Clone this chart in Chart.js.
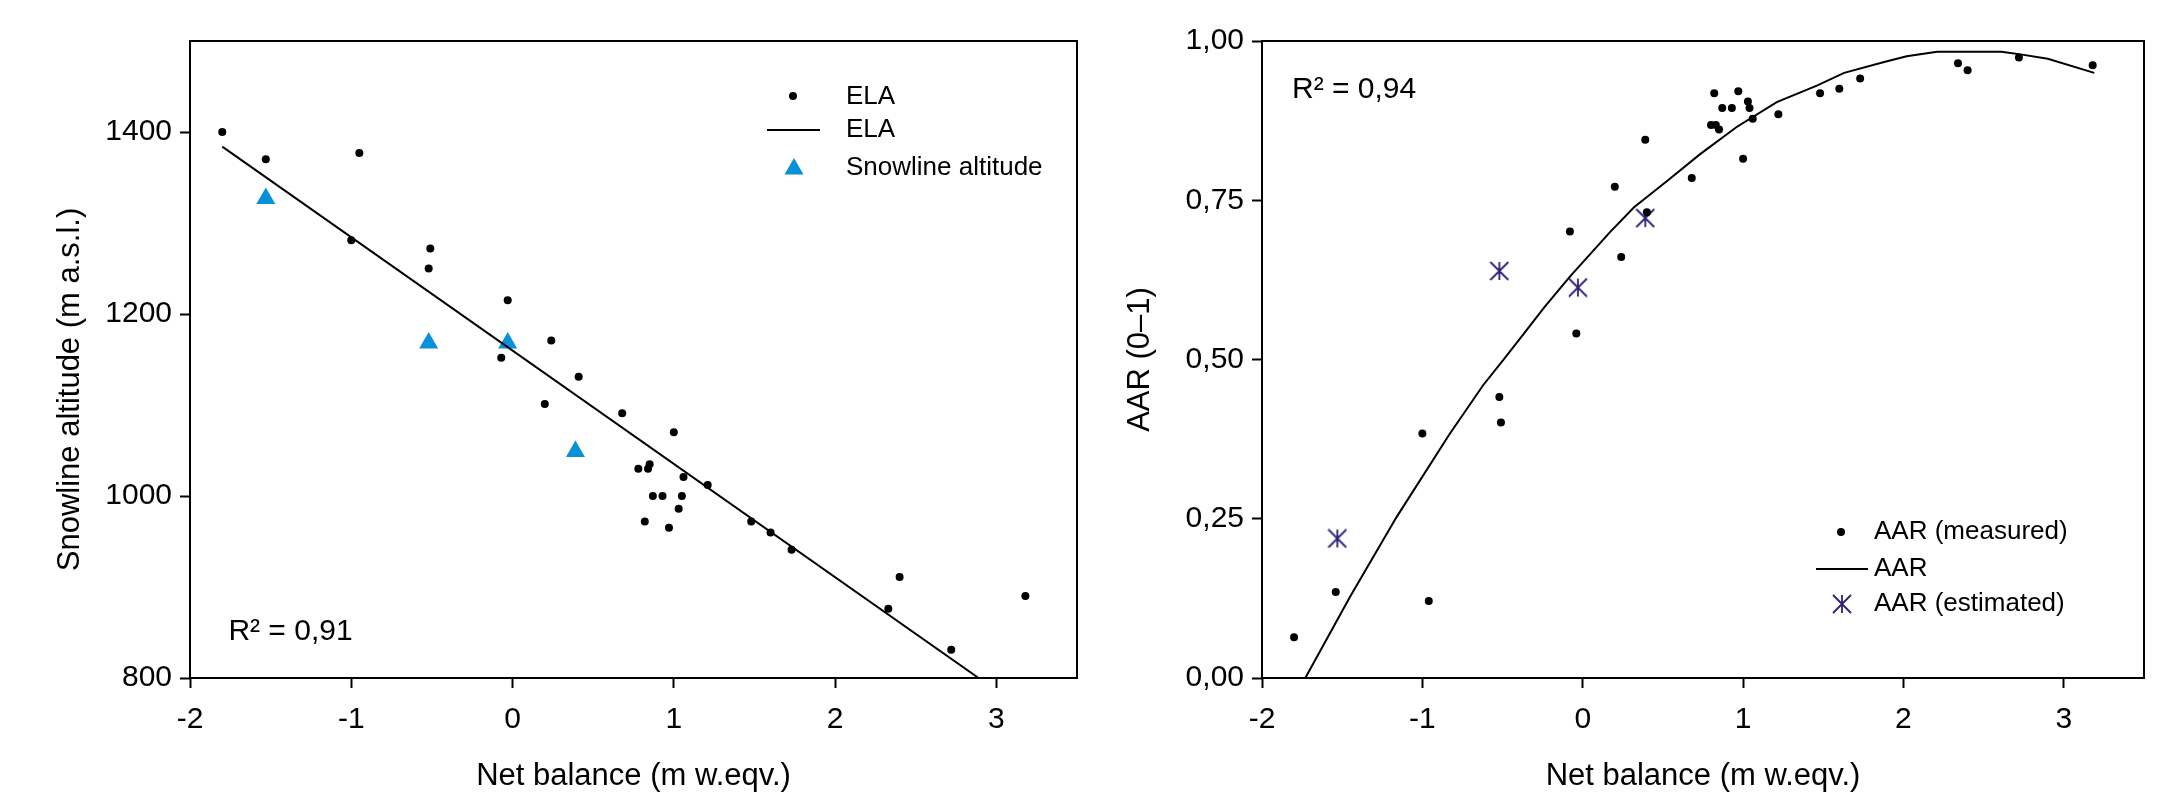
<!DOCTYPE html>
<html>
<head>
<meta charset="utf-8">
<script src="https://cdn.jsdelivr.net/npm/chart.js@4.4.1/dist/chart.umd.min.js"></script>
<style>
  html, body { margin: 0; padding: 0; background: #fff; }
  body { width: 2161px; height: 798px; position: relative; overflow: hidden; }
  canvas { position: absolute; top: 0; }
  #c1 { left: 0; }
  #c2 { left: 1100px; }
</style>
</head>
<body>
<canvas id="c1" width="1100" height="798"></canvas>
<canvas id="c2" width="1061" height="798"></canvas>
<script>
// ---------- data ----------
const xTicks = [-2, -1, 0, 1, 2, 3];
const xTickLabels = ['-2', '-1', '0', '1', '2', '3'];
const yTicksLeft = [800, 1000, 1200, 1400];
const yTickLabelsLeft = ['800', '1000', '1200', '1400'];
const yTicksRight = [0, 0.25, 0.5, 0.75, 1];
const yTickLabelsRight = ['0,00', '0,25', '0,50', '0,75', '1,00'];

const elaBalance  = [-1.80, -1.53, -0.95, -1.00, -0.51, -0.52, -0.03, 0.24, -0.07, 0.20, 0.41, 0.68, 1.00, 0.78, 0.84, 0.85, 1.06, 1.21, 0.87, 0.93, 1.05, 1.03, 0.82, 0.97, 1.48, 1.60, 1.73, 2.40, 2.33, 2.72, 3.18];
const elaAltitude = [1400, 1370, 1377, 1281, 1272, 1250, 1215, 1171, 1152, 1101, 1131, 1091, 1070, 1030, 1030, 1035, 1021, 1012, 1000, 1000, 1000, 986, 972, 965, 972, 960, 941, 911, 876, 831, 890];

const elaFitBalance  = [-1.80, 2.89];
const elaFitAltitude = [1384, 800];

const snowBalance  = [-1.53, -0.52, -0.03, 0.39];
const snowAltitude = [1327, 1168, 1168, 1049];

const aarBalance  = [-1.80, -1.54, -0.96, -1.00, -0.52, -0.51, -0.04, -0.08, 0.24, 0.20, 0.39, 0.68, 0.40, 0.80, 0.83, 0.85, 0.82, 0.97, 0.87, 0.93, 1.03, 1.04, 1.06, 1.00, 1.22, 1.48, 1.60, 1.73, 2.34, 2.40, 2.72, 3.18];
const aarMeasured = [0.064, 0.135, 0.121, 0.384, 0.441, 0.401, 0.541, 0.701, 0.661, 0.771, 0.845, 0.785, 0.731, 0.868, 0.868, 0.861, 0.918, 0.921, 0.895, 0.895, 0.905, 0.895, 0.878, 0.815, 0.885, 0.918, 0.925, 0.941, 0.965, 0.954, 0.974, 0.962];

const aarCurveBalance = [-1.73, -1.45, -1.16, -0.83, -0.62, -0.49, -0.35, -0.24, -0.08, 0.17, 0.32, 0.53, 0.73, 0.96, 1.21, 1.46, 1.63, 1.88, 2.02, 2.21, 2.61, 2.73, 2.90, 3.19];
const aarCurve        = [0.000, 0.128, 0.253, 0.383, 0.460, 0.501, 0.546, 0.582, 0.630, 0.700, 0.739, 0.781, 0.822, 0.865, 0.904, 0.930, 0.950, 0.967, 0.976, 0.983, 0.983, 0.979, 0.972, 0.950];

const aarEstBalance = [-1.53, -0.52, -0.03, 0.39];
const aarEstimated  = [0.219, 0.639, 0.613, 0.722];

const r2Left = 'R² = 0,91';
const r2Right = 'R² = 0,94';
const xTitle = 'Net balance (m w.eqv.)';
const yTitleLeft = 'Snowline altitude (m a.s.l.)';
const yTitleRight = 'AAR (0–1)';

// ---------- helpers ----------
const FONT = "'Liberation Sans', Arial, Helvetica, sans-serif";
Chart.defaults.font.family = FONT;
Chart.defaults.color = '#000';

function pts(xs, ys) { return xs.map((x, i) => ({ x: x, y: ys[i] })); }

function makeStar(size, color, lw) {
  const c = document.createElement('canvas');
  c.width = size; c.height = size;
  const g = c.getContext('2d');
  g.strokeStyle = color; g.lineWidth = lw; g.lineCap = 'butt';
  const h = size / 2, r = size / 2 - 1;
  g.beginPath();
  g.moveTo(h, h - r); g.lineTo(h, h + r);
  g.moveTo(h - r, h - r); g.lineTo(h + r, h + r);
  g.moveTo(h + r, h - r); g.lineTo(h - r, h + r);
  g.stroke();
  return c;
}
const starImg = makeStar(20, '#2b2278', 1.8);

const overlay = {
  id: 'overlay',
  afterDraw(chart, args, o) {
    const ctx = chart.ctx;
    const a = chart.chartArea;
    ctx.save();
    // frame
    ctx.strokeStyle = '#000';
    ctx.lineWidth = 2;
    ctx.strokeRect(a.left, a.top, a.right - a.left, a.bottom - a.top);
    // R² text
    if (o.r2) {
      const x = chart.scales.x.getPixelForValue(o.r2.x);
      const y = chart.scales.y.getPixelForValue(o.r2.y);
      ctx.font = '30px ' + FONT;
      ctx.fillStyle = '#000';
      ctx.textAlign = 'left';
      ctx.textBaseline = 'alphabetic';
      ctx.fillText(o.r2.text, x, y);
    }
    // rotated y title (custom placement)
    if (o.yTitle) {
      ctx.save();
      ctx.translate(o.yTitle.x, (a.top + a.bottom) / 2 + o.yTitle.shift);
      ctx.rotate(-Math.PI / 2);
      ctx.font = '31px ' + FONT;
      ctx.fillStyle = '#000';
      ctx.textAlign = 'center';
      ctx.textBaseline = 'middle';
      ctx.fillText(o.yTitle.text, 0, 0);
      ctx.restore();
    }
    // legend
    if (o.legend) {
      ctx.font = '26px ' + FONT;
      ctx.textAlign = 'left';
      ctx.textBaseline = 'middle';
      o.legend.rows.forEach(row => {
        const ds = chart.data.datasets[row.ds];
        if (ds.showLine) {
          ctx.strokeStyle = ds.borderColor;
          ctx.lineWidth = ds.borderWidth;
          ctx.beginPath();
          ctx.moveTo(row.lx0, row.y);
          ctx.lineTo(row.lx1, row.y);
          ctx.stroke();
        } else {
          ctx.fillStyle = ds.backgroundColor;
          ctx.strokeStyle = ds.backgroundColor;
          Chart.helpers.drawPoint(ctx, {
            pointStyle: ds.pointStyle, radius: ds.pointRadius, rotation: 0, borderWidth: 0
          }, row.mx, row.my);
        }
        ctx.fillStyle = '#000';
        ctx.fillText(ds.label, o.legend.textX, row.y);
      });
    }
    ctx.restore();
  }
};

function xScale() {
  return {
    type: 'linear', min: -2, max: 3.5,
    afterFit: s => { s.height = 120; },
    afterBuildTicks: s => { s.ticks = xTicks.map(v => ({ value: v })); },
    ticks: {
      font: { size: 30 }, color: '#000', padding: 14, maxRotation: 0, autoSkip: false,
      callback: v => xTickLabels[xTicks.indexOf(v)]
    },
    grid: { display: true, drawOnChartArea: false, drawTicks: true, tickLength: 10, tickWidth: 2, tickColor: '#000' },
    border: { display: false },
    title: { display: true, text: xTitle, font: { size: 31 }, color: '#000', padding: { top: 0, bottom: 3 } }
  };
}

// ---------- left chart ----------
new Chart(document.getElementById('c1'), {
  type: 'scatter',
  data: {
    datasets: [
      { label: 'ELA', data: pts(elaBalance, elaAltitude), pointStyle: 'circle', pointRadius: 4,
        backgroundColor: '#000', borderColor: '#000', borderWidth: 0, order: 0 },
      { label: 'ELA', data: pts(elaFitBalance, elaFitAltitude), showLine: true, pointRadius: 0,
        borderColor: '#000', borderWidth: 2, backgroundColor: '#000', tension: 0, order: 1 },
      { label: 'Snowline altitude', data: pts(snowBalance, snowAltitude), pointStyle: 'triangle', pointRadius: 11,
        backgroundColor: '#0891d8', borderColor: '#0891d8', borderWidth: 0, order: 2 }
    ]
  },
  options: {
    responsive: false, animation: false, devicePixelRatio: 1,
    layout: { padding: { top: 41, right: 23, bottom: 0, left: 0 } },
    plugins: {
      legend: { display: false }, tooltip: { enabled: false },
      overlay: {
        r2: { text: r2Left, x: -1.762, y: 842 },
        yTitle: { text: yTitleLeft, x: 70, shift: 30 },
        legend: {
          textX: 846,
          rows: [
            { ds: 0, mx: 793, my: 96, y: 97 },
            { ds: 1, lx0: 767, lx1: 820, y: 130 },
            { ds: 2, mx: 794, my: 169, y: 168 }
          ]
        }
      }
    },
    scales: {
      x: xScale(),
      y: {
        type: 'linear', min: 800, max: 1500,
        afterFit: s => { s.width = 190; },
        afterBuildTicks: s => { s.ticks = yTicksLeft.map(v => ({ value: v })); },
        ticks: { font: { size: 30 }, color: '#000', padding: 8,
          callback: v => yTickLabelsLeft[yTicksLeft.indexOf(v)] },
        grid: { display: true, drawOnChartArea: false, drawTicks: true, tickLength: 10, tickWidth: 2, tickColor: '#000' },
        border: { display: false },
        title: { display: false }
      }
    }
  },
  plugins: [overlay]
});

// ---------- right chart ----------
new Chart(document.getElementById('c2'), {
  type: 'scatter',
  data: {
    datasets: [
      { label: 'AAR (measured)', data: pts(aarBalance, aarMeasured), pointStyle: 'circle', pointRadius: 4,
        backgroundColor: '#000', borderColor: '#000', borderWidth: 0, order: 0 },
      { label: 'AAR', data: pts(aarCurveBalance, aarCurve), showLine: true, pointRadius: 0,
        borderColor: '#000', borderWidth: 2, backgroundColor: '#000', tension: 0, order: 1 },
      { label: 'AAR (estimated)', data: pts(aarEstBalance, aarEstimated), pointStyle: starImg, pointRadius: 9,
        backgroundColor: '#2b2278', borderColor: '#2b2278', borderWidth: 0, order: 2 }
    ]
  },
  options: {
    responsive: false, animation: false, devicePixelRatio: 1,
    layout: { padding: { top: 41, right: 17, bottom: 0, left: 0 } },
    plugins: {
      legend: { display: false }, tooltip: { enabled: false },
      overlay: {
        r2: { text: r2Right, x: -1.813, y: 0.9105 },
        legend: {
          textX: 774,
          rows: [
            { ds: 0, mx: 741, my: 532, y: 532 },
            { ds: 1, lx0: 716, lx1: 768, y: 569 },
            { ds: 2, mx: 742, my: 604, y: 604 }
          ]
        }
      }
    },
    scales: {
      x: xScale(),
      y: {
        type: 'linear', min: 0, max: 1,
        afterFit: s => { s.width = 162; },
        afterBuildTicks: s => { s.ticks = yTicksRight.map(v => ({ value: v })); },
        ticks: { font: { size: 30 }, color: '#000', padding: 8,
          callback: v => yTickLabelsRight[yTicksRight.indexOf(v)] },
        grid: { display: true, drawOnChartArea: false, drawTicks: true, tickLength: 10, tickWidth: 2, tickColor: '#000' },
        border: { display: false },
        title: { display: true, text: yTitleRight, font: { size: 31 }, color: '#000', padding: { top: 22, bottom: 0 } }
      }
    }
  },
  plugins: [overlay]
});
</script>
</body>
</html>
